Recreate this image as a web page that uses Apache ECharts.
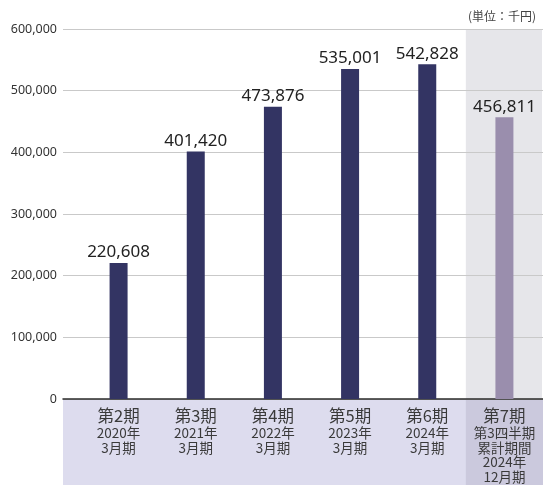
<!DOCTYPE html>
<html>
<head>
<meta charset="utf-8">
<script src="https://cdn.jsdelivr.net/npm/echarts@6/dist/echarts.min.js"></script>
<style>
  html, body { margin: 0; padding: 0; background: #fff; }
  #chart { width: 543px; height: 485px; }
</style>
</head>
<body>
<div id="chart"></div>
<script>
// 売上高の推移 (単位: 千円)
const periods = ['第2期', '第3期', '第4期', '第5期', '第6期', '第7期']
const subLabels = [
  '2020年\n3月期',
  '2021年\n3月期',
  '2022年\n3月期',
  '2023年\n3月期',
  '2024年\n3月期',
  '第3四半期\n累計期間\n2024年\n12月期'
]
const sales = [220608, 401420, 473876, 535001, 542828, 456811]
const yTicks = [0, 100000, 200000, 300000, 400000, 500000, 600000]

const W = 543
const H = 485
const gridTop = 29
const gridBottom = 86
const gridLeft = 80
const lineLeft = 63

const comma = (v) => String(v).replace(/\B(?=(\d{3})+(?!\d))/g, ',')
const numFont = '"Noto Sans", "Noto Sans CJK JP", sans-serif'
const jpFont = '"Noto Sans CJK JP", sans-serif'

const bandW = (W - gridLeft) / periods.length
const plotBottom = H - gridBottom

const chart = echarts.init(document.getElementById('chart'))
chart.setOption({
  animation: false,
  title: {
    text: '(単位：千円)',
    right: 2,
    top: 5,
    textStyle: { fontSize: 12, fontWeight: 'normal', color: '#444', fontFamily: jpFont }
  },
  graphic: [
    // label strip under the axis
    { type: 'rect', z: -10, shape: { x: lineLeft, y: plotBottom, width: W - lineLeft, height: gridBottom }, style: { fill: '#dddcee' } },
    // highlighted last period column
    { type: 'rect', z: -10, shape: { x: W - bandW, y: gridTop, width: bandW - 1, height: plotBottom - gridTop }, style: { fill: '#e6e6ea' } },
    { type: 'rect', z: -10, shape: { x: W - bandW, y: plotBottom, width: bandW, height: gridBottom }, style: { fill: '#cbc9dd' } }
  ],
  grid: [
    { left: gridLeft, right: 0, top: gridTop, bottom: gridBottom },
    { left: lineLeft, right: 0, top: gridTop, bottom: gridBottom }
  ],
  xAxis: [
    {
      type: 'category',
      gridIndex: 0,
      data: periods,
      axisLine: { show: false },
      axisTick: { show: false },
      axisLabel: {
        margin: 6,
        interval: 0,
        formatter: (v, i) => '{a|' + v + '}\n' + subLabels[i].split('\n').map(s => '{b|' + s + '}').join('\n'),
        rich: {
          a: { fontSize: 16.5, lineHeight: 21, color: '#3a3a3a', fontFamily: jpFont },
          b: { fontSize: 13.5, lineHeight: 14.5, color: '#3a3a3a', fontFamily: jpFont }
        }
      }
    },
    {
      type: 'category',
      gridIndex: 1,
      data: [''],
      axisLine: { show: true, lineStyle: { color: '#2b2b2b', width: 1.5 } },
      axisTick: { show: false },
      axisLabel: { show: false }
    }
  ],
  yAxis: [
    {
      type: 'value',
      gridIndex: 0,
      min: 0,
      max: 600000,
      interval: 100000,
      show: false
    },
    {
      type: 'value',
      gridIndex: 1,
      min: yTicks[0],
      max: yTicks[yTicks.length - 1],
      interval: yTicks[1] - yTicks[0],
      axisLine: { show: false },
      axisTick: { show: false },
      splitLine: { lineStyle: { color: '#c9c9c9', width: 1 } },
      axisLabel: {
        margin: 6,
        fontSize: 12.5,
        color: '#333',
        fontFamily: numFont,
        formatter: (v) => comma(v)
      }
    }
  ],
  series: [
    {
      name: '売上高',
      type: 'bar',
      xAxisIndex: 0,
      yAxisIndex: 0,
      barWidth: 18,
      data: sales,
      itemStyle: {
        color: (p) => p.dataIndex === sales.length - 1 ? '#9a8ead' : '#333463'
      },
      label: {
        show: true,
        position: 'top',
        distance: 2,
        fontSize: 17,
        color: '#222',
        fontFamily: numFont,
        formatter: (p) => comma(p.value)
      }
    }
  ]
})
</script>
</body>
</html>
